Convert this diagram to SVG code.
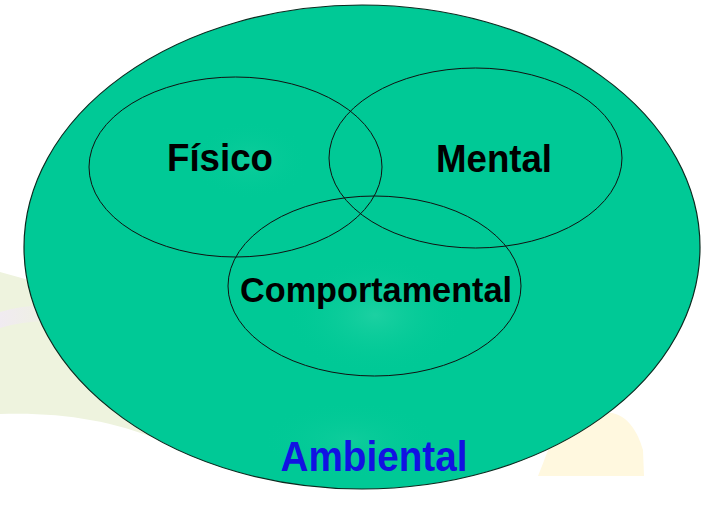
<svg xmlns="http://www.w3.org/2000/svg" width="725" height="518" viewBox="0 0 725 518">
  <defs>
    <radialGradient id="glow" cx="0.5" cy="0.5" r="0.5">
      <stop offset="0" stop-color="#3fd9b0" stop-opacity="0.45"/>
      <stop offset="1" stop-color="#00c996" stop-opacity="0"/>
    </radialGradient>
    <linearGradient id="band" x1="0" y1="0" x2="1" y2="0">
      <stop offset="0" stop-color="#f1e9f6"/>
      <stop offset="1" stop-color="#eef2dd"/>
    </linearGradient>
  </defs>
  <style>
    .ring { fill: none; stroke: #111; stroke-width: 1; }
    .lbl { font-family: "Liberation Sans", Arial, sans-serif; font-weight: bold; fill: #000; }
  </style>
  <rect width="725" height="518" fill="#ffffff"/>
  <g id="background">
    <path d="M0,272 C30,280 60,290 90,300 L160,440 C110,420 60,412 0,414 Z" fill="#eef3de"/>
    <path d="M0,312 C20,306 40,304 60,306 L62,322 C40,320 20,322 0,328 Z" fill="url(#band)" opacity="0.8"/>
    <path d="M560,428 C575,420 595,412 612,413 C628,416 638,432 643,450 L644,476 L538,476 C545,460 550,440 560,428 Z" fill="#fff8df"/>
  </g>
  <g id="ambiental">
    <ellipse cx="362" cy="247" rx="338" ry="242" fill="#00c996" stroke="#0b2a1f" stroke-width="1.2"/>
    <ellipse cx="375" cy="315" rx="90" ry="60" fill="url(#glow)"/>
    <ellipse cx="250" cy="160" rx="60" ry="40" fill="url(#glow)" opacity="0.5"/>
    <ellipse cx="350" cy="440" rx="90" ry="40" fill="url(#glow)" opacity="0.5"/>
    <text x="374" y="471" text-anchor="middle" font-family="Liberation Sans, Arial, sans-serif" font-weight="bold" font-size="42" fill="#1212e2" textLength="187" lengthAdjust="spacingAndGlyphs">Ambiental</text>
  </g>
  <g id="fisico">
    <ellipse class="ring" cx="235.5" cy="167" rx="146.5" ry="90"/>
    <text class="lbl" x="220" y="171" text-anchor="middle" font-size="38" textLength="106" lengthAdjust="spacingAndGlyphs">Físico</text>
  </g>
  <g id="mental">
    <ellipse class="ring" cx="475.5" cy="158" rx="146.5" ry="90"/>
    <text class="lbl" x="494" y="172" text-anchor="middle" font-size="38" textLength="116" lengthAdjust="spacingAndGlyphs">Mental</text>
  </g>
  <g id="comportamental">
    <ellipse class="ring" cx="374.5" cy="286" rx="146.5" ry="90"/>
    <text class="lbl" x="376" y="302" text-anchor="middle" font-size="35" textLength="272" lengthAdjust="spacingAndGlyphs">Comportamental</text>
  </g>
</svg>
